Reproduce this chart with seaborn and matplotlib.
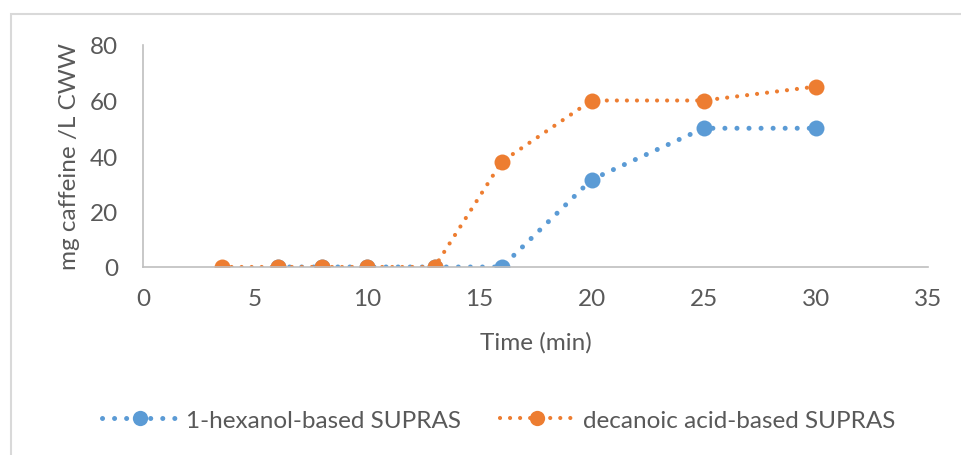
import matplotlib
matplotlib.use("Agg")
import matplotlib.pyplot as plt
import seaborn as sns
import pandas as pd
from matplotlib.lines import Line2D
from matplotlib.patches import Rectangle

# Extraction time (min) and caffeine extracted (mg per litre CWW)
hexanol_time = [6, 8, 10, 13, 16, 20, 25, 30]
hexanol_caffeine = [0, 0, 0, 0, 0, 31.5, 50, 50]

decanoic_time = [3.5, 6, 8, 10, 13, 16, 20, 25, 30]
decanoic_caffeine = [0, 0, 0, 0, 0, 38, 60, 60, 65]

series_names = ["1-hexanol-based SUPRAS", "decanoic acid-based SUPRAS"]
x_ticks = [0, 5, 10, 15, 20, 25, 30, 35]
y_ticks = [0, 20, 40, 60, 80]

BLUE = "#5B9BD5"
ORANGE = "#ED7D31"
TEXT = "#595959"
AXIS = "#BFBFBF"
FS = 17.5

sns.set_theme(style="white")
plt.rcParams["font.family"] = ["Lato", "DejaVu Sans"]

fig = plt.figure(figsize=(9.61, 4.56), dpi=100)
ax = fig.add_axes([143 / 961, 1 - 268 / 456, (928 - 143) / 961, (268 - 46) / 456])

hex_df = pd.DataFrame({"time": hexanol_time, "caffeine": hexanol_caffeine})
dec_df = pd.DataFrame({"time": decanoic_time, "caffeine": decanoic_caffeine})

styles = [
    (hex_df, BLUE, 3.6, 11.5),
    (dec_df, ORANGE, 3.0, 11.5),
]
for df, color, lw, ms in styles:
    sns.lineplot(data=df, x="time", y="caffeine", ax=ax, color=color,
                 linewidth=lw, linestyle=(0, (0.01, 2.4)), marker="o",
                 markersize=ms, markeredgewidth=0, dash_capstyle="round",
                 estimator=None, sort=False, legend=False)

ax.set_xlim(0, 35)
ax.set_ylim(0, 80)
ax.set_xticks(x_ticks)
ax.set_yticks(y_ticks)
ax.tick_params(axis="both", length=0, labelsize=FS, colors=TEXT)
ax.tick_params(axis="y", pad=18)
ax.tick_params(axis="x", pad=15)

for side in ["top", "right"]:
    ax.spines[side].set_visible(False)
for side in ["left", "bottom"]:
    ax.spines[side].set_color(AXIS)
    ax.spines[side].set_linewidth(1.2)

ax.set_xlabel("Time (min)", fontsize=FS, color=TEXT, labelpad=16)
ax.set_ylabel("mg caffeine /L CWW", fontsize=FS, color=TEXT, labelpad=7)

handles = [
    Line2D([0], [0], color=BLUE, linewidth=3.6, linestyle=(0, (0.01, 2.4)),
           dash_capstyle="round", marker="o", markersize=11, markeredgewidth=0),
    Line2D([0], [0], color=ORANGE, linewidth=3.0, linestyle=(0, (0.01, 2.4)),
           dash_capstyle="round", marker="o", markersize=11, markeredgewidth=0),
]
fig.legend(handles, series_names, loc="center left",
           bbox_to_anchor=(80 / 961, 1 - 421 / 456),
           ncol=2, frameon=False, fontsize=FS, labelcolor=TEXT,
           handlelength=3.1, columnspacing=1.6, handletextpad=0.35)

# Chart-area frame
fig.patches.append(Rectangle((11 / 961, -0.05), 1.2, 1 - 15 / 456 + 0.05,
                             transform=fig.transFigure, fill=False,
                             edgecolor="#D9D9D9", linewidth=1.5))

fig.savefig("out.png", dpi=100)
